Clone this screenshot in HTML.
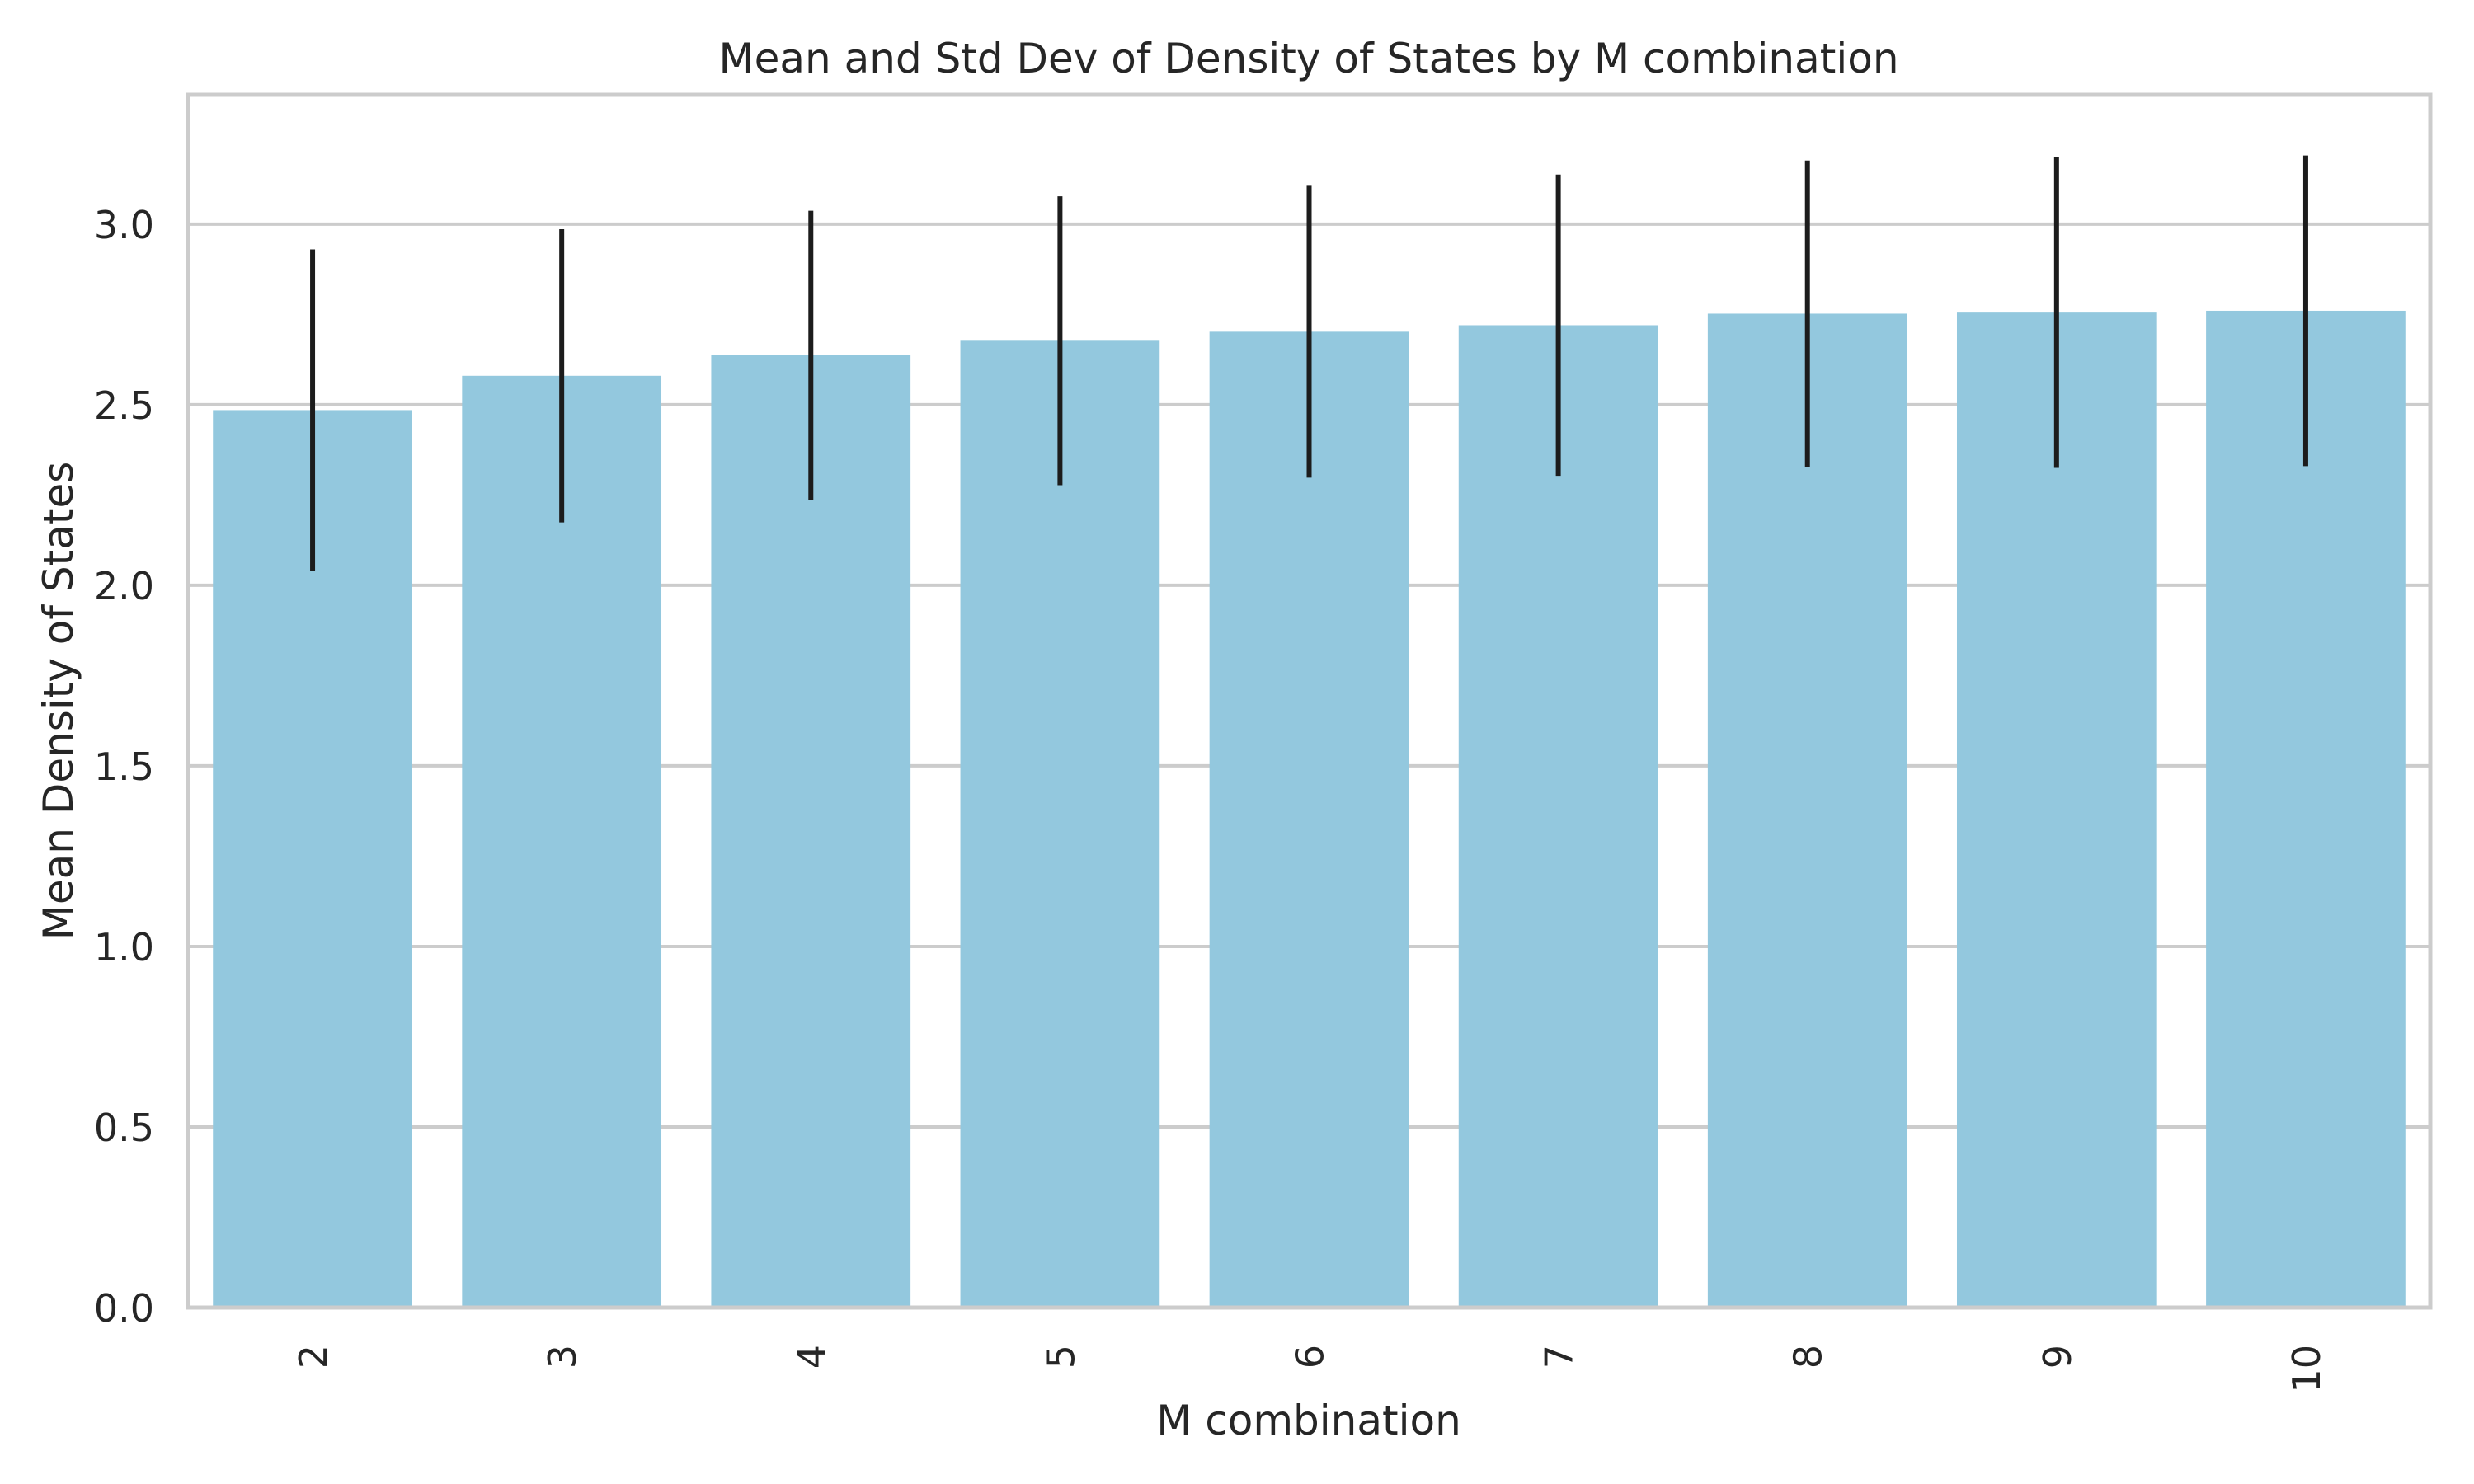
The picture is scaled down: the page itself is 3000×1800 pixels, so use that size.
<!DOCTYPE html>
<html><head><meta charset="utf-8"><style>
html,body{margin:0;padding:0;background:#fff;}
svg{display:block;font-family:"DejaVu Sans","Liberation Sans",sans-serif;}
</style></head><body>
<svg id="chart" width="3000" height="1800" viewBox="0 0 3000 1800" xmlns="http://www.w3.org/2000/svg">
<rect x="0" y="0" width="3000" height="1800" fill="#ffffff"/>
<g id="grid"></g>
<g id="bars"></g>
<g id="errs"></g>
<rect x="228" y="115" width="2719" height="1471" fill="none" stroke="#cccccc" stroke-width="5"/>
<g id="yticks"></g>
<g id="xticks"></g>
<text x="1587" y="88" font-size="50" fill="#262626" text-anchor="middle">Mean and Std Dev of Density of States by M combination</text>
<text x="1587" y="1740" font-size="50" fill="#262626" text-anchor="middle">M combination</text>
<text transform="translate(88,850) rotate(-90)" font-size="50" fill="#262626" text-anchor="middle">Mean Density of States</text>
</svg>
<script>
const categories = ["2","3","4","5","6","7","8","9","10"];
const means = [2.485, 2.58, 2.637, 2.677, 2.702, 2.72, 2.752, 2.755, 2.76];
const stds = [0.445, 0.406, 0.40, 0.40, 0.404, 0.417, 0.424, 0.43, 0.43];
const yTicks = [0, 0.5, 1.0, 1.5, 2.0, 2.5, 3.0];
const yTickLabels = ["0.0","0.5","1.0","1.5","2.0","2.5","3.0"];

const NS = "http://www.w3.org/2000/svg";
const L = 228, R = 2947, T = 115, B = 1586, YMAX = 3.358;
const band = (R - L) / categories.length;
function yScale(v){ return B - (v / YMAX) * (B - T); }
function xCenter(i){ return L + band * (i + 0.5); }
function mk(tag, attrs, parent){
  const e = document.createElementNS(NS, tag);
  for (const k in attrs) e.setAttribute(k, attrs[k]);
  parent.appendChild(e);
  return e;
}
const grid = document.getElementById('grid');
const yt = document.getElementById('yticks');
yTicks.forEach((v, i) => {
  const y = yScale(v);
  const g = mk('line', {x1: L, x2: R, y1: y, y2: y, stroke: '#cccccc', 'stroke-width': 4}, grid);
  
  
  const t = mk('text', {x: 187, y: y + 17, 'font-size': 46, fill: '#262626', 'text-anchor': 'end'}, yt);
  t.textContent = yTickLabels[i];
  
  
});
const bars = document.getElementById('bars');
const errs = document.getElementById('errs');
const xt = document.getElementById('xticks');
categories.forEach((c, i) => {
  const cx = xCenter(i), w = band * 0.8;
  const r = mk('rect', {x: cx - w / 2, y: yScale(means[i]), width: w, height: B - yScale(means[i]), fill: '#93c8de'}, bars);
  
  
  const e = mk('line', {x1: cx, x2: cx, y1: yScale(means[i] - stds[i]), y2: yScale(means[i] + stds[i]), stroke: '#1c1c1c', 'stroke-width': 6}, errs);
  
  
  const t = mk('text', {transform: 'translate(' + (cx + 17) + ',1631) rotate(-90)', 'font-size': 46, fill: '#262626', 'text-anchor': 'end'}, xt);
  t.textContent = c;
  
  
});
</script>
</body></html>
